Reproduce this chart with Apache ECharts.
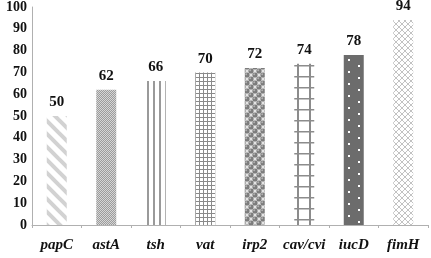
<!DOCTYPE html>
<html>
<head>
<meta charset="utf-8">
<script src="https://cdn.jsdelivr.net/npm/echarts@6/dist/echarts.min.js"></script>
<style>
  html, body { margin: 0; padding: 0; background: #fff; }
  #chart { width: 431px; height: 258px; }
</style>
</head>
<body>
<div id="chart"></div>
<script>
// data
const genes = ['papC', 'astA', 'tsh', 'vat', 'irp2', 'cav/cvi', 'iucD', 'fimH'];
const percents = [50, 62, 66, 70, 72, 74, 78, 94];
const yTicks = [0, 10, 20, 30, 40, 50, 60, 70, 80, 90, 100];

const BAR_W = 20;
const FONT = '"Liberation Serif", "Times New Roman", serif';

// small helper to make a tile canvas
function tile(w, h, draw) {
  const c = document.createElement('canvas');
  c.width = w; c.height = h;
  const ctx = c.getContext('2d');
  draw(ctx, w, h);
  return c;
}

// one fill pattern per bar
const tiles = [
  // papC - light diagonal stripes
  tile(13, 13, (ctx, w, h) => {
    ctx.strokeStyle = '#d2d2d2';
    ctx.lineWidth = 4;
    for (let k = -1; k <= 1; k++) {
      ctx.beginPath();
      ctx.moveTo(k * w - 2, -2);
      ctx.lineTo(k * w + w + 2, h + 2);
      ctx.stroke();
    }
  }),
  // astA - fine checker
  tile(2, 2, (ctx) => {
    ctx.fillStyle = '#d6d6d6'; ctx.fillRect(0, 0, 2, 2);
    ctx.fillStyle = '#9c9c9c'; ctx.fillRect(0, 0, 1, 1); ctx.fillRect(1, 1, 1, 1);
  }),
  // tsh - vertical lines
  tile(6, 4, (ctx) => {
    ctx.fillStyle = '#fff'; ctx.fillRect(0, 0, 6, 4);
    ctx.fillStyle = '#9a9a9a'; ctx.fillRect(1, 0, 2, 4);
  }),
  // vat - small grid
  tile(4, 4, (ctx) => {
    ctx.fillStyle = '#fff'; ctx.fillRect(0, 0, 4, 4);
    ctx.fillStyle = '#8a8a8a';
    ctx.fillRect(0, 0, 4, 1); ctx.fillRect(0, 0, 1, 4);
  }),
  // irp2 - spheres
  tile(8, 8, (ctx) => {
    ctx.fillStyle = '#e4e4e4'; ctx.fillRect(0, 0, 8, 8);
    const ball = (x, y) => {
      ctx.fillStyle = '#7c7c7c';
      ctx.beginPath(); ctx.arc(x, y, 2.6, 0, Math.PI * 2); ctx.fill();
      ctx.fillStyle = '#b0b0b0';
      ctx.beginPath(); ctx.arc(x - 0.8, y - 0.8, 1, 0, Math.PI * 2); ctx.fill();
    };
    [[2, 2], [10, 2], [2, 10], [10, 10], [6, 6], [-2, 6], [6, -2], [-2, -2]].forEach(p => ball(p[0], p[1]));
  }),
  // cav/cvi - ladder
  tile(20, 11, (ctx) => {
    ctx.fillStyle = '#fff'; ctx.fillRect(0, 0, 20, 11);
    ctx.fillStyle = '#8c8c8c';
    ctx.fillRect(3, 0, 2, 11); ctx.fillRect(15, 0, 2, 11);
    ctx.fillRect(0, 5, 20, 1.5);
  }),
  // iucD - dark with white dots
  tile(20, 12, (ctx) => {
    ctx.fillStyle = '#6c6c6c'; ctx.fillRect(0, 0, 20, 12);
    ctx.fillStyle = '#fff';
    ctx.fillRect(4, 2, 2, 2); ctx.fillRect(14, 8, 2, 2);
  }),
  // fimH - light crosshatch
  tile(6, 6, (ctx) => {
    ctx.fillStyle = '#fff'; ctx.fillRect(0, 0, 6, 6);
    ctx.strokeStyle = '#c2c2c2'; ctx.lineWidth = 1;
    ctx.beginPath();
    ctx.moveTo(0, 0); ctx.lineTo(6, 6);
    ctx.moveTo(6, 0); ctx.lineTo(0, 6);
    ctx.stroke();
  })
];

const chart = echarts.init(document.getElementById('chart'), null, { renderer: 'canvas' });

function buildData(offsets) {
  return percents.map((v, i) => ({
    value: v,
    itemStyle: {
      color: {
        image: tiles[i],
        repeat: 'repeat',
        x: offsets ? offsets[i].x : 0,
        y: offsets ? offsets[i].y : 0
      }
    }
  }));
}

chart.setOption({
  animation: false,
  grid: { left: 32, right: 3, top: 7, bottom: 33 },
  xAxis: {
    type: 'category',
    data: genes,
    axisLine: { lineStyle: { color: '#b0b0b0', width: 1 } },
    axisTick: { show: true, length: 3, lineStyle: { color: '#b0b0b0' } },
    axisLabel: {
      interval: 0,
      margin: 13,
      color: '#111',
      fontFamily: FONT,
      fontWeight: 'bold',
      fontStyle: 'italic',
      fontSize: 15
    }
  },
  yAxis: {
    type: 'value',
    min: yTicks[0],
    max: yTicks[yTicks.length - 1],
    interval: 10,
    splitLine: { show: false },
    axisLine: { show: true, lineStyle: { color: '#b0b0b0', width: 1 } },
    axisTick: { show: false },
    axisLabel: {
      margin: 5,
      color: '#111',
      fontFamily: FONT,
      fontWeight: 'bold',
      fontSize: 14
    }
  },
  series: [{
    type: 'bar',
    barWidth: BAR_W,
    data: buildData(null),
    label: {
      show: true,
      position: 'top',
      distance: 6,
      color: '#111',
      fontFamily: FONT,
      fontWeight: 'bold',
      fontSize: 15
    }
  }]
});

// line the patterns up with each bar's left edge and the baseline
const base = chart.convertToPixel({ yAxisIndex: 0 }, 0);
const offsets = genes.map((g, i) => {
  const cx = chart.convertToPixel({ xAxisIndex: 0 }, i);
  return { x: Math.round(cx - BAR_W / 2), y: Math.round(base) };
});
chart.setOption({ series: [{ data: buildData(offsets) }] });
</script>
</body>
</html>
